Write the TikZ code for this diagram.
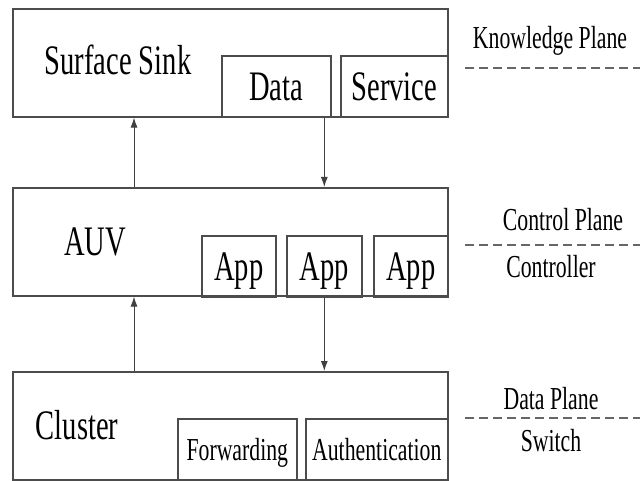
\documentclass[tikz,border=0pt]{standalone}
\usepackage{fontspec}
\setmainfont{Liberation Serif}
\newfontfamily\narrowserif[FakeStretch=0.68]{Liberation Serif}
\usetikzlibrary{arrows.meta}

\begin{document}
\begin{tikzpicture}[x=1pt,y=-1pt,
    layer/.style={draw=black!70, line width=1.6pt, anchor=north west,
      minimum width=435pt, minimum height=108pt, inner sep=0pt},
    part/.style={draw=black!70, line width=1.6pt, anchor=north west,
      minimum height=61pt, inner sep=0pt},
    big/.style={font=\narrowserif\fontsize{42}{44}\selectfont,
      text height=28pt, text depth=0pt},
    small/.style={font=\narrowserif\fontsize{32}{34}\selectfont,
      text height=22pt, text depth=0pt},
    flow/.style={-{Latex[length=10pt,width=7pt]}, line width=1pt, black!75},
    sep/.style={black!60, line width=1.8pt, dash pattern=on 9pt off 5pt}]
  \useasboundingbox (0,0) rectangle (640,481);
  % the three layers
  \node[layer] (sink) at (12,8) {};
  \node[layer] (auv) at (12,187) {};
  \node[layer] (cluster) at (12,371) {};
  \node[big] (sinktxt) at (118,61) {Surface Sink};
  \node[big] (auvtxt) at (95,241) {AUV};
  \node[big] (clustertxt) at (77,425) {Cluster};
  % boxes inside the layers
  \node[part,big,minimum width=109pt] (data) at (221,55) {Data};
  \node[part,big,minimum width=107pt] (service) at (340,55) {Service};
  \node[part,big,minimum width=74pt] (app1) at (201,235) {App};
  \node[part,big,minimum width=75pt] (app2) at (286,235) {App};
  \node[part,big,minimum width=74pt] (app3) at (373,235) {App};
  \node[part,small,minimum width=119pt] (fwd) at (177,418) {Forwarding};
  \node[part,small,minimum width=142pt] (auth) at (305,418) {Authentication};
  % links between layers
  \coordinate (up) at (134,0);
  \draw[flow] (auv.north -| up) -- (sink.south -| up);
  \draw[flow] (data.south -| app2) -- (auv.north -| app2);
  \draw[flow] (cluster.north -| up) -- (auv.south -| up);
  \draw[flow] (app2.south) -- (cluster.north -| app2);
  % plane names on the right
  \node[small] (know) at (550,38) {Knowledge Plane};
  \coordinate (k1) at (465,68); \coordinate (k2) at (640,68);
  \draw[sep] (k1) -- (k2);
  \node[small] (ctrl) at (563,220) {Control Plane};
  \node[small] (ctrlr) at (551,266) {Controller};
  \coordinate (c1) at (465,245); \coordinate (c2) at (640,245);
  \draw[sep] (c1) -- (c2);
  \node[small] (dplane) at (551,398) {Data Plane};
  \node[small] (switch) at (551,440) {Switch};
  \coordinate (d1) at (465,418); \coordinate (d2) at (640,418);
  \draw[sep] (d1) -- (d2);
\end{tikzpicture}
\end{document}
